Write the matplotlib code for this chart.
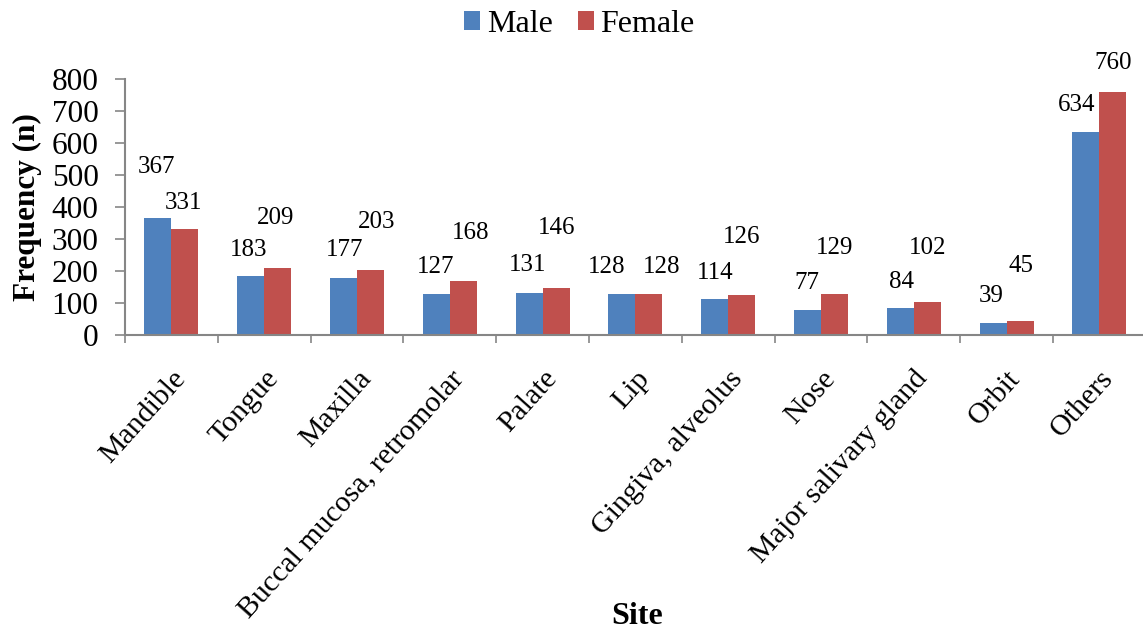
import matplotlib
matplotlib.use("Agg")
import matplotlib.pyplot as plt
import numpy as np
from matplotlib.ticker import FixedLocator, NullFormatter

plt.rcParams['font.family'] = ['Liberation Serif', 'DejaVu Serif']

sites = ["Mandible", "Tongue", "Maxilla", "Buccal mucosa, retromolar", "Palate",
         "Lip", "Gingiva, alveolus", "Nose", "Major salivary gland", "Orbit", "Others"]
male = [367, 183, 177, 127, 131, 128, 114, 77, 84, 39, 634]
female = [331, 209, 203, 168, 146, 128, 126, 129, 102, 45, 760]

# label offsets in pixels: (dx from bar centre, dy from bar top to label centre)
male_label_off = [(-1, 51), (-2, 26), (1, 28), (-1, 27), (-2, 28), (-15, 27),
                  (0, 26), (-1, 27), (1, 26), (-2, 27), (-9, 27)]
female_label_off = [(-1, 26), (-2, 50), (6, 48), (7, 48), (1, 60), (13, 27),
                    (0, 58), (0, 46), (0, 54), (1, 55), (0, 29)]

W, H = 1143, 631
fig = plt.figure(figsize=(W / 100, H / 100), dpi=100)
ax = fig.add_axes([125 / W, (H - 335) / H, 11 * 92.8 / W, 256 / H])

x = np.arange(len(sites))
bw = 0.29
blue = "#4F81BD"
red = "#C0504D"
b1 = ax.bar(x - bw / 2, male, bw, color=blue, label="Male", zorder=2)
b2 = ax.bar(x + bw / 2, female, bw, color=red, label="Female", zorder=2)

for bars, vals, offs in ((b1, male, male_label_off), (b2, female, female_label_off)):
    for rect, v, (dx, dy) in zip(bars, vals, offs):
        ax.annotate(str(v), xy=(rect.get_x() + rect.get_width() / 2, v),
                    xytext=(dx, dy), textcoords="offset pixels",
                    ha="center", va="center", fontsize=18)

ax.set_xlim(-0.5, len(sites) - 0.5)
ax.set_ylim(0, 800)
ax.set_yticks(np.arange(0, 801, 100))
ax.tick_params(axis="y", labelsize=22.5, length=7, color="#868686", width=1.2, pad=12)

ax.set_xticks(x)
ax.set_xticklabels(sites, rotation=48, ha="right", rotation_mode="anchor", fontsize=21.5)
ax.tick_params(axis="x", which="major", length=0, pad=22)
ax.xaxis.set_minor_locator(FixedLocator(np.arange(-0.5, len(sites), 1.0)))
ax.xaxis.set_minor_formatter(NullFormatter())
ax.tick_params(axis="x", which="minor", length=6, color="#868686", width=1.2)

for s in ("top", "right"):
    ax.spines[s].set_visible(False)
for s in ("left", "bottom"):
    ax.spines[s].set_color("#868686")
    ax.spines[s].set_linewidth(1.5)

ax.set_ylabel("Frequency (n)", fontsize=22.5, fontweight="bold", va="center")
ax.yaxis.set_label_coords((27 - 125) / (11 * 92.8), 0.5)
fig.text(637 / W, 1 - 616 / H, "Site", ha="center", va="center",
         fontsize=23, fontweight="bold")

fig.legend(handles=[b1, b2], labels=["Male", "Female"], loc="upper center",
           bbox_to_anchor=(0.507, 1.03), ncol=2, frameon=False, fontsize=23,
           handlelength=0.5, handleheight=0.5, handletextpad=0.2, columnspacing=0.8)

fig.savefig("out.png", dpi=100)
